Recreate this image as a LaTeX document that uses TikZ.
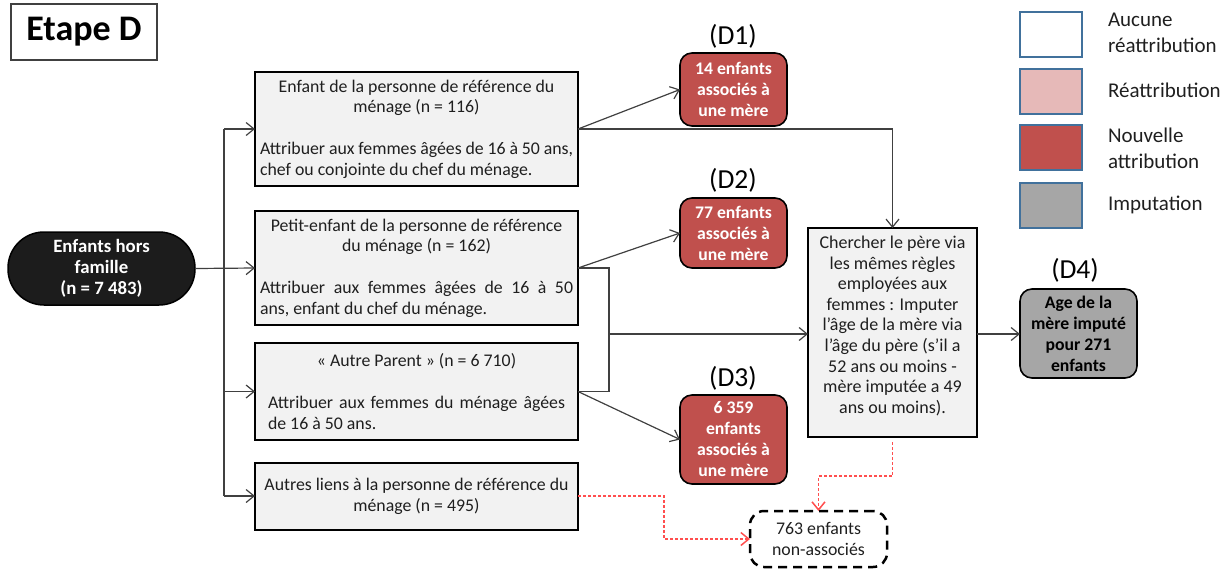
\documentclass[tikz,border=0pt]{standalone}
\usepackage{fontspec}
\setmainfont{Carlito}
\usetikzlibrary{arrows.meta,calc}
\definecolor{boxfill}{HTML}{F2F2F2}
\definecolor{redfill}{HTML}{C0504D}
\definecolor{pinkfill}{HTML}{E6B9B8}
\definecolor{grayfill}{HTML}{A6A6A6}
\definecolor{legborder}{HTML}{41719C}
\definecolor{linkc}{HTML}{404040}
\definecolor{dotred}{HTML}{FF4F4F}
\definecolor{txt}{HTML}{1F1F1F}
\definecolor{startfill}{HTML}{1C1C1C}
\begin{document}
\begin{tikzpicture}[x=1pt,y=-1pt,
  every node/.style={inner sep=0pt, outer sep=0pt},
  boxfont/.style={font=\fontsize{17.8}{20.7}\selectfont},
  greybox/.style={draw=black, line width=2pt, fill=boxfill, minimum width=323pt,
    text width=313pt, inner xsep=5pt, text=txt, boxfont, align=justify},
  redbox/.style={draw=black, line width=1.6pt, fill=redfill, rounded corners=12pt,
    minimum width=107pt, text=white, font=\bfseries\fontsize{17.7}{21}\selectfont, align=center},
  legbox/.style={draw=legborder, line width=2pt, minimum width=62pt, minimum height=45pt},
  legtext/.style={font=\fontsize{21}{26}\selectfont, align=left, text=txt, anchor=west},
  dlabel/.style={font=\fontsize{27.5}{30}\selectfont},
  plainlink/.style={draw=linkc, line width=1.2pt},
  link/.style={plainlink, -{Straight Barb[length=8pt,width=13pt]}},
  redlink/.style={draw=dotred, line width=1.5pt, dash pattern=on 3pt off 2pt,
    -{Straight Barb[length=8pt,width=13pt]}}
]
\useasboundingbox (0,0) rectangle (1230,571);

% title
\node[draw=linkc, line width=1.2pt, minimum width=146pt, minimum height=56pt,
  font=\bfseries\fontsize{36}{40}\selectfont] (etape) at (84,32) {Etape D};

% start
\node[draw=black, line width=1.5pt, fill=startfill, rounded corners=36pt,
  minimum width=187pt, minimum height=73pt, text=white,
  font=\bfseries\fontsize{18.8}{21}\selectfont, align=center] (start) at (101.5,268.5)
  {Enfants hors\\famille\\(n = 7 483)};

% grey boxes
\node[greybox, minimum height=114pt] (A) at (416.5,129)
  {{\centering Enfant de la personne de référence du\\ménage (n = 116)\par}\vspace{21pt}Attribuer aux femmes âgées de 16 à 50 ans,\linebreak chef ou conjointe du chef du ménage.};
\node[greybox, minimum height=114pt] (B) at (416.5,268)
  {{\centering Petit-enfant de la personne de référence\\du ménage (n = 162)\par}\vspace{21pt}Attribuer aux femmes âgées de 16 à 50\linebreak ans, enfant du chef du ménage.};
\node[greybox, minimum height=97pt, text width=297pt, inner xsep=13pt] (C) at (416.5,391.5)
  {{\centering « Autre Parent » (n = 6 710)\par}\vspace{21pt}Attribuer aux femmes du ménage âgées\linebreak de 16 à 50 ans.};
\node[greybox, minimum height=67pt] (E) at (416.5,496)
  {{\centering Autres liens à la personne de référence du\\ménage (n = 495)\par}};

% result boxes
\node[dlabel] (l1) at (733,36) {(D1)};
\node[redbox, minimum height=73pt] (D1) at (733.5,89.5) {14 enfants\\associés à\\une mère};
\node[dlabel] (l2) at (733,180) {(D2)};
\node[redbox, minimum height=70pt] (D2) at (733.5,233) {77 enfants\\associés à\\une mère};
\node[dlabel] (l3) at (733,378) {(D3)};
\node[redbox, minimum height=89pt] (D3) at (733.5,439.5) {6 359\\enfants\\associés à\\une mère};

% father box
\node[draw=black, line width=2pt, fill=boxfill, minimum width=169pt, minimum height=209pt] (father) at (892.5,332.5) {};
\node[font=\fontsize{18}{20.6}\selectfont, align=center, text=txt, anchor=north] (ftxt) at ([yshift=-8pt]father.north)
  {Chercher le père via\\les mêmes règles\\employées aux\\femmes : Imputer\\l’âge de la mère via\\l’âge du père (s’il a\\52 ans ou moins -\\mère imputée a 49\\ans ou moins).};

\node[dlabel] (l4) at (1075,270) {(D4)};
\node[draw=black, line width=1.6pt, fill=grayfill, rounded corners=12pt,
  minimum width=117pt, minimum height=89pt, text=black,
  font=\bfseries\fontsize{17.7}{21}\selectfont, align=center] (D4) at (1078.5,333.5)
  {Age de la\\mère imputé\\pour 271\\enfants};

\node[draw=black, line width=2.5pt, dash pattern=on 9pt off 6pt, rounded corners=14pt,
  minimum width=137pt, minimum height=56pt, boxfont, text=txt, align=center] (na) at (818.5,539)
  {763 enfants\\non-associés};

% legend
\node[legbox, fill=white] (L1) at (1051,34.5) {};
\node[legbox, fill=pinkfill] (L2) at (1051,91) {};
\node[legbox, fill=redfill] (L3) at (1051,147.5) {};
\node[legbox, fill=grayfill] (L4) at (1051,205) {};
\node[legtext] (T1) at (1108,33) {Aucune\\réattribution};
\node[legtext] (T2) at (1108,90) {Réattribution};
\node[legtext] (T3) at (1108,148) {Nouvelle\\attribution};
\node[legtext] (T4) at (1108,205) {Imputation};

% connectors
\coordinate (sp) at (224,0);
\draw[plainlink] (sp |- A.west) -- (sp |- E.west);
\draw[link] (start.east) -- (B.west);
\draw[link] (sp |- A.west) -- (A.west);
\draw[link] (sp |- C.west) -- (C.west);
\draw[link] (sp |- E.west) -- (E.west);

\draw[link] (A.east) -- (D1.west);
\draw[link] (A.east) -| (father.north);
\draw[link] (B.east) -- (D2.west);
\coordinate (br) at (609,334);
\draw[plainlink] (B.east) -| (br |- C.east) -- (C.east);
\draw[link] (br) -- (br -| father.west);
\draw[link] (C.east) -- (D3.west);
\draw[link] (father.east |- br) -- (br -| D4.west);

\coordinate (r1) at (0,476);
\draw[redlink] ([yshift=-5pt]father.south) -- (father.south |- r1) -| (na.north);
\coordinate (r2) at (664,0);
\draw[redlink] (E.east) -| (r2 |- na.west) -- (na.west);
\end{tikzpicture}
\end{document}
